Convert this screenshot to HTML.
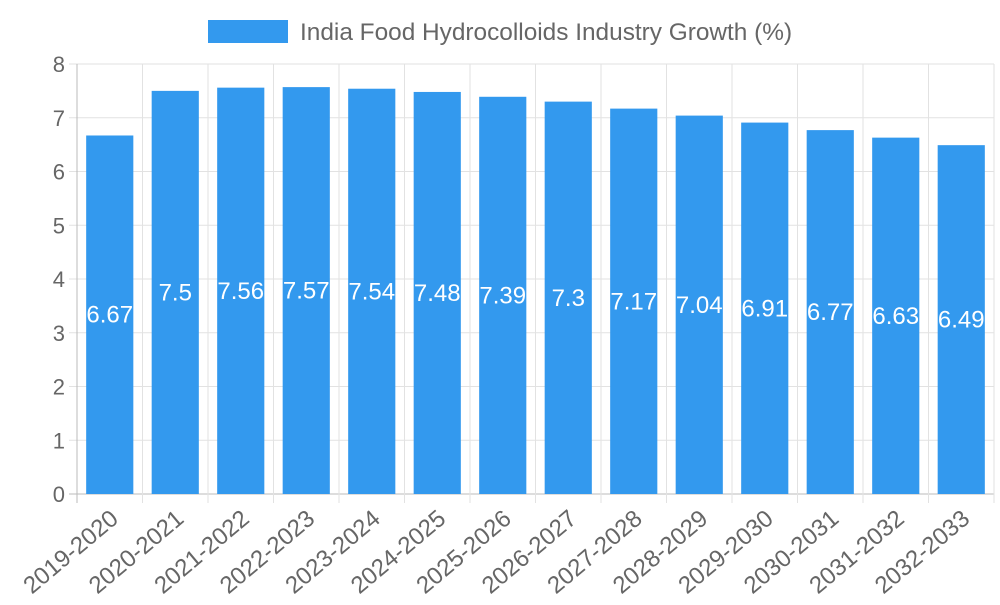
<!DOCTYPE html>
<html><head><meta charset="utf-8"><style>
body{margin:0;background:#fff;}
svg{font-family:"Liberation Sans",sans-serif;}
</style></head><body>
<svg id="c" width="1000" height="600">
<g>
<rect x="208" y="20" width="80" height="23" fill="#3399ee"/>
<text x="300" y="40" font-size="24.4" fill="#666">India Food Hydrocolloids Industry Growth (%)</text>
</g>
</svg>
<script>
const categories=["2019-2020","2020-2021","2021-2022","2022-2023","2023-2024","2024-2025","2025-2026","2026-2027","2027-2028","2028-2029","2029-2030","2030-2031","2031-2032","2032-2033"];
const values=[6.67,7.5,7.56,7.57,7.54,7.48,7.39,7.3,7.17,7.04,6.91,6.77,6.63,6.49];
const yTicks=[0,1,2,3,4,5,6,7,8];
const svg=document.getElementById('c');
const NS='http://www.w3.org/2000/svg';
const L=77,R=994,T=64,B=494,yMax=8;
const bw=(R-L)/categories.length;
const y=v=>B-(v/yMax)*(B-T);
const x=i=>L+bw*i;
function mk(t,a){const e=document.createElementNS(NS,t);for(const k in a)e.setAttribute(k,a[k]);svg.appendChild(e);return e;}
yTicks.forEach(t=>{
 const l=mk('line',{x1:L-8,x2:R,y1:y(t),y2:y(t),stroke:t===0?'#bbb':'#e2e2e2','stroke-width':1});
 
 
 const tx=mk('text',{x:L-12,y:y(t)+8,'text-anchor':'end','font-size':22,fill:'#666'});
 tx.textContent=t;
 
 
});
for(let i=0;i<=categories.length;i++){
 const l=mk('line',{x1:x(i),x2:x(i),y1:T,y2:B+9,stroke:i===0?'#bbb':'#e2e2e2','stroke-width':1});
 
 
}
categories.forEach((c,i)=>{
 const cx=x(i)+bw/2, w=bw*0.72;
 const r=mk('rect',{x:cx-w/2,y:y(values[i]),width:w,height:B-y(values[i]),fill:'#3399ee'});
 
 
 const vt=mk('text',{x:cx,y:(y(values[i])+B)/2+8,'text-anchor':'middle','font-size':24,fill:'#fff'});
 vt.textContent=values[i];
 
 
 const ax=cx+10, ay=B+27;
 const lt=mk('text',{x:ax,y:ay,'text-anchor':'end','font-size':24,fill:'#666',transform:`rotate(-40 ${ax} ${ay})`});
 lt.textContent=c;
 
 
});
</script>
</body></html>
